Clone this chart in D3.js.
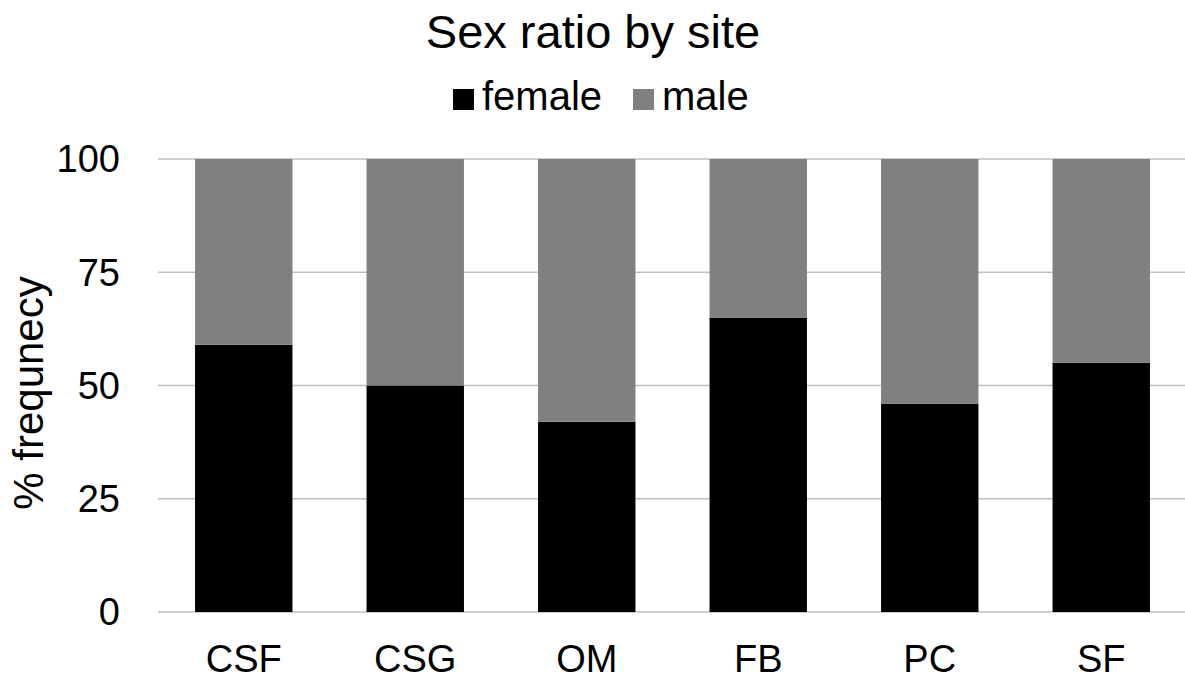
<!DOCTYPE html>
<html>
<head>
<meta charset="utf-8">
<script src="https://cdn.jsdelivr.net/npm/d3@7"></script>
<style>
  body { margin: 0; background: #fff; }
  svg { display: block; font-family: Arial, "Liberation Sans", sans-serif; }
</style>
</head>
<body>
<div id="chart"></div>
<script>
// data
const sites = ["CSF", "CSG", "OM", "FB", "PC", "SF"];
const female = [59, 50, 42, 65, 46, 55];
const male = [41, 50, 58, 35, 54, 45];
const yTicks = [0, 25, 50, 75, 100];
const seriesNames = ["female", "male"];
const seriesColors = ["#000000", "#808080"];

const width = 1185,
    height = 683;

const svg = d3.select("#chart").append("svg")
    .attr("width", width)
    .attr("height", height);

const x = d3.scaleBand()
    .domain(sites)
    .range([158, 1187])
    .paddingInner(0.432)
    .paddingOuter(0.216);

const y = d3.scaleLinear()
    .domain([0, 100])
    .range([612, 159]);

// gridlines
svg.append("g")
    .selectAll("line")
    .data(yTicks)
    .join("line")
    .attr("x1", 158)
    .attr("x2", width)
    .attr("y1", d => y(d))
    .attr("y2", d => y(d))
    .attr("stroke", "#bfbfbf")
    .attr("stroke-width", 1.5);

// stacked bars
const rows = sites.map((s, i) => ({site: s, female: female[i], male: male[i]}));
const stacked = d3.stack().keys(seriesNames)(rows);

svg.append("g")
    .selectAll("g")
    .data(stacked)
    .join("g")
    .attr("fill", (d, i) => seriesColors[i])
    .selectAll("rect")
    .data(d => d)
    .join("rect")
    .attr("x", d => x(d.data.site))
    .attr("width", x.bandwidth())
    .attr("y", d => y(d[1]))
    .attr("height", d => y(d[0]) - y(d[1]));

// y tick labels
svg.append("g")
    .selectAll("text")
    .data(yTicks)
    .join("text")
    .attr("x", 120)
    .attr("y", d => y(d))
    .attr("dy", "0.35em")
    .attr("text-anchor", "end")
    .style("font-size", "38px")
    .text(d => d);

// x labels
svg.append("g")
    .selectAll("text")
    .data(sites)
    .join("text")
    .attr("x", d => x(d) + x.bandwidth() / 2)
    .attr("y", 672)
    .attr("text-anchor", "middle")
    .style("font-size", "38px")
    .text(d => d);

// y axis title
svg.append("text")
    .attr("transform", "translate(43,393) rotate(-90)")
    .attr("text-anchor", "middle")
    .style("font-size", "42px")
    .text("% frequnecy");

// title
svg.append("text")
    .attr("x", 593)
    .attr("y", 48)
    .attr("text-anchor", "middle")
    .style("font-size", "47px")
    .text("Sex ratio by site");

// legend
const legendX = [453, 633];
const legend = svg.append("g")
    .selectAll("g")
    .data(seriesNames)
    .join("g")
    .attr("transform", (d, i) => `translate(${legendX[i]},0)`);

legend.append("rect")
    .attr("y", 89)
    .attr("width", 21)
    .attr("height", 21)
    .attr("fill", (d, i) => seriesColors[i]);

legend.append("text")
    .attr("x", 29)
    .attr("y", 110)
    .style("font-size", "40px")
    .text(d => d);
</script>
</body>
</html>
